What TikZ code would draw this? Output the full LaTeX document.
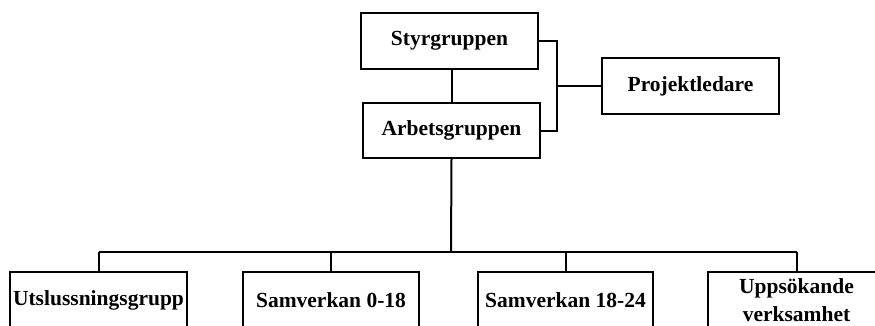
\documentclass[tikz,border=0pt]{standalone}
\usepackage{fontspec}
\setmainfont{Liberation Serif}
\usepackage{tikz}
\usetikzlibrary{positioning}
\tikzset{
	orgbox/.style={draw, line width=2pt, minimum width=177pt, minimum height=56pt,
		inner sep=0pt, align=center, font=\fontsize{21.5}{28}\selectfont\bfseries},
	link/.style={line width=2pt}
}

\begin{document}
\begin{tikzpicture}[x=1pt, y=-1pt]
\useasboundingbox (0, 0) rectangle (875, 325);
\clip (0, 0) rectangle (875, 325);

% top part
\node[orgbox] (sty) at (449.5, 41) {Styrgruppen};
\node[orgbox, minimum height=55pt] (arb) at (451.5, 130.5) {Arbetsgruppen};
\node[orgbox] (proj) at (690.5, 86) {Projektledare};

% bottom row
\node[orgbox] (utsl) at (98.5, 300) {Utslussningsgrupp};
\node[orgbox, minimum width=176pt] (s018) at (331, 300) {Samverkan 0-18};
\node[orgbox, minimum width=175pt] (s1824) at (565.5, 300) {Samverkan 18-24};
\node[orgbox] (upps) at (796.5, 300) {Uppsökande\\verksamhet};

\coordinate (brk) at (557, 86);
\coordinate (bus) at (451, 252);

\draw[link] (arb.north) -- (arb.north |- sty.south);
\draw[link] (sty.east) -| (brk) |- (arb.east);
\draw[link] (brk) -- (proj.west);

\draw[link] (arb.south) -- (bus);
\draw[link] (utsl.north |- bus) -- (upps.north |- bus);
\foreach \n in {utsl, s018, s1824, upps}
	\draw[link] (\n.north) -- (\n.north |- bus);
\end{tikzpicture}
\end{document}
